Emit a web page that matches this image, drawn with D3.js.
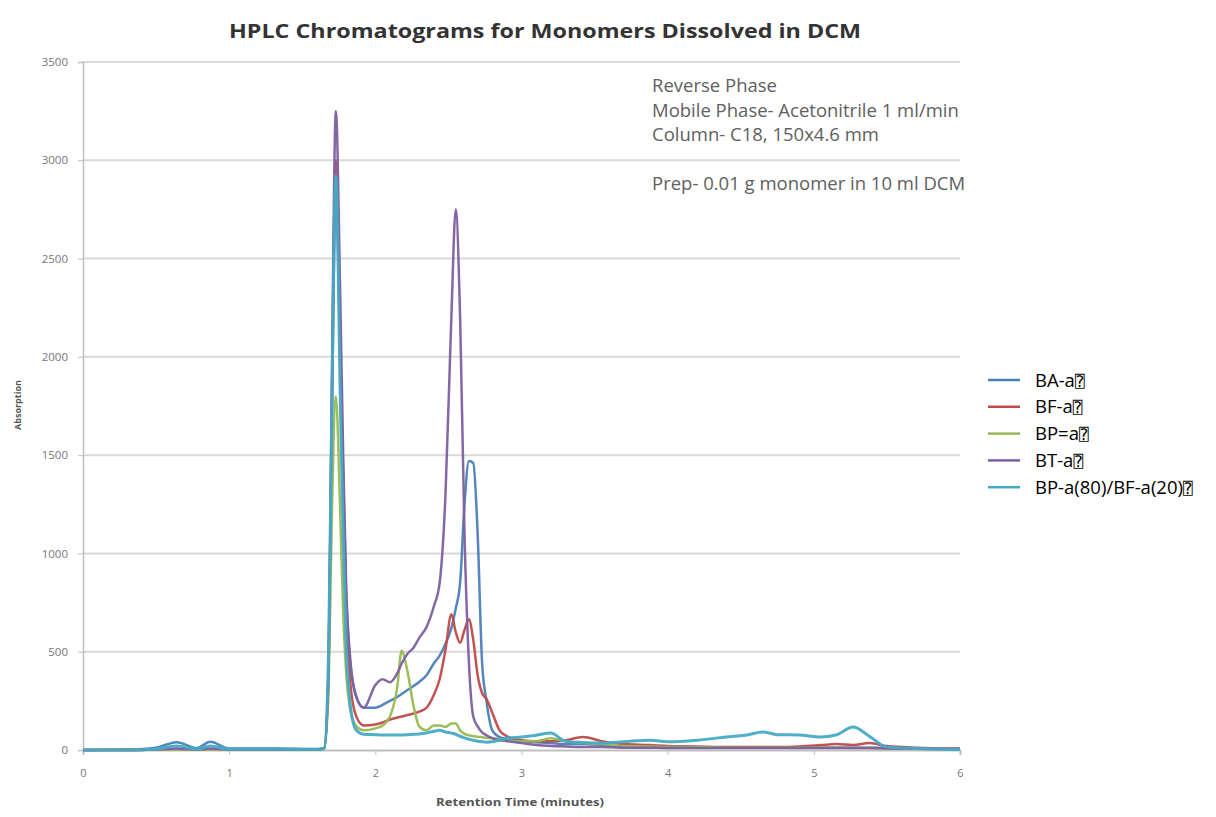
<!DOCTYPE html>
<html>
<head>
<meta charset="utf-8">
<script src="https://cdn.jsdelivr.net/npm/d3@7"></script>
<style>
  html, body { margin: 0; padding: 0; background: #ffffff; }
  svg { display: block; }
</style>
</head>
<body>
<svg id="chart" width="1216" height="817"></svg>
<script>
// ---------------- DATA ----------------
const chartTitle = "HPLC Chromatograms for Monomers Dissolved in DCM";
const xTitle = "Retention Time (minutes)";
const yTitle = "Absorption";
const xTicks = [0, 1, 2, 3, 4, 5, 6];
const yTicks = [0, 500, 1000, 1500, 2000, 2500, 3000, 3500];
const notes = [
  "Reverse Phase",
  "Mobile Phase- Acetonitrile 1 ml/min",
  "Column- C18, 150x4.6 mm",
  "",
  "Prep- 0.01 g monomer in 10 ml DCM"
];
const seriesNames = ["BA-a", "BF-a", "BP=a", "BT-a", "BP-a(80)/BF-a(20)"];
const seriesColors = ["#4a7ebb", "#be4b48", "#98b954", "#7d60a0", "#46aac5"];

// retention times (minutes) shared by all series
const times = [0, 0.3, 0.5, 0.64, 0.78, 0.87, 1.0, 1.3, 1.6, 1.65, 1.68, 1.70, 1.73, 1.76, 1.78, 1.80, 1.83, 1.87, 1.92,
  2.0, 2.05, 2.1, 2.15, 2.18, 2.22, 2.26, 2.3, 2.35, 2.4, 2.44, 2.48, 2.52, 2.55, 2.58, 2.61, 2.64, 2.67, 2.70, 2.73, 2.76,
  2.80, 2.85, 2.9, 3.0, 3.1, 3.2, 3.3, 3.42, 3.55, 3.7, 3.88, 4.0, 4.2, 4.4, 4.55, 4.65, 4.75, 4.9, 5.05, 5.15, 5.27,
  5.38, 5.5, 5.7, 6.0];

const baValues = [0, 2, 12, 40, 10, 42, 8, 8, 5, 10, 400, 1500, 2850, 2000, 1400, 800, 430, 270, 215,
  215, 230, 250, 270, 285, 305, 325, 346, 380, 440, 480, 540, 620, 720, 850, 1250, 1470, 1460, 1100, 450, 250,
  100, 65, 55, 45, 40, 35, 30, 30, 25, 15, 12, 12, 12, 12, 12, 12, 12, 12, 12, 12, 12,
  12, 10, 8, 5];

const bfValues = [0, 0, 2, 5, 3, 5, 3, 3, 3, 8, 400, 1600, 3000, 2000, 1300, 700, 330, 170, 125,
  130, 140, 155, 165, 170, 178, 185, 195, 215, 280, 360, 510, 690, 600, 545, 610, 665, 560, 380, 290, 260,
  190, 100, 70, 50, 45, 45, 50, 66, 45, 30, 25, 20, 18, 15, 15, 15, 15, 18, 25, 30, 25,
  35, 20, 12, 8];

const bpValues = [0, 0, 2, 4, 2, 4, 2, 2, 2, 5, 300, 1100, 1800, 1200, 700, 400, 200, 120, 100,
  110, 125, 170, 320, 505, 400, 230, 120, 100, 125, 125, 117, 135, 135, 100, 82, 75, 70, 68, 65, 62,
  60, 55, 50, 45, 45, 60, 45, 35, 30, 20, 18, 15, 15, 12, 12, 12, 12, 12, 12, 12, 10,
  10, 8, 6, 5];

const btValues = [0, 0, 3, 8, 3, 8, 3, 3, 3, 8, 400, 1700, 3250, 2300, 1500, 850, 450, 270, 215,
  330, 360, 345, 390, 440, 490, 519, 570, 625, 730, 850, 1300, 2200, 2750, 2200, 1100, 450, 170, 120, 90, 75,
  60, 50, 45, 35, 25, 20, 18, 15, 15, 12, 12, 10, 10, 10, 10, 10, 10, 10, 10, 10, 10,
  10, 8, 6, 5];

const mixValues = [0, 0, 5, 20, 5, 20, 5, 5, 3, 10, 500, 1600, 2920, 1800, 1100, 550, 220, 100, 80,
  78, 76, 76, 76, 76, 78, 80, 82, 86, 95, 100, 92, 86, 80, 70, 62, 55, 50, 45, 42, 40,
  42, 50, 60, 66, 75, 86, 45, 38, 35, 42, 50, 42, 50, 66, 78, 92, 78, 76, 66, 76, 117,
  70, 15, 8, 3];

const seriesValues = [baValues, bfValues, bpValues, btValues, mixValues];

// ---------------- CHART ----------------
const svg = d3.select("#chart");
const x = d3.scaleLinear().domain([0, 6]).range([83, 960]);
const y = d3.scaleLinear().domain([0, 3500]).range([750, 62]);

// gridlines
svg.append("g")
  .selectAll("line")
  .data(yTicks.filter(d => d > 0))
  .join("line")
  .attr("x1", x(0)).attr("x2", x(6))
  .attr("y1", d => y(d)).attr("y2", d => y(d))
  .attr("stroke", "#d9d9d9").attr("stroke-width", 2);

// y axis
const yAxis = svg.append("g")
  .attr("transform", `translate(${x(0)},0)`)
  .call(d3.axisLeft(y).tickValues(yTicks).tickSize(5).tickPadding(10).tickFormat(d3.format("d")));
yAxis.select(".domain").attr("stroke", "#bfbfbf").attr("stroke-width", 1.5);
yAxis.selectAll(".tick line").attr("stroke", "#bfbfbf");
yAxis.selectAll(".tick text").attr("fill", "#777").style("font-family", "Open Sans, sans-serif").style("font-size", "11.5px");

// x axis
const xAxis = svg.append("g")
  .attr("transform", `translate(0,${y(0)})`)
  .call(d3.axisBottom(x).tickValues(xTicks).tickSize(5).tickPadding(14).tickFormat(d3.format("d")));
xAxis.select(".domain").attr("stroke", "#bfbfbf").attr("stroke-width", 2);
xAxis.selectAll(".tick line").attr("stroke", "#bfbfbf");
xAxis.selectAll(".tick text").attr("fill", "#777").style("font-family", "Open Sans, sans-serif").style("font-size", "11px");

// lines
const line = d3.line()
  .x((d, i) => x(times[i]))
  .y(d => y(d))
  .curve(d3.curveMonotoneX);

svg.append("g")
  .selectAll("path")
  .data(seriesValues)
  .join("path")
  .attr("d", d => line(d))
  .attr("fill", "none")
  .attr("stroke", (d, i) => seriesColors[i])
  .attr("stroke-width", (d, i) => i === 4 ? 3 : 2.5)
  .attr("stroke-linejoin", "round")
  .attr("opacity", 0.95);

// title
svg.append("text")
  .attr("x", 545).attr("y", 38)
  .attr("text-anchor", "middle")
  .attr("textLength", 632).attr("lengthAdjust", "spacingAndGlyphs")
  .style("font-family", "Open Sans, sans-serif").style("font-weight", "bold").style("font-size", "20px")
  .attr("fill", "#333")
  .text(chartTitle);

// axis titles
svg.append("text")
  .attr("x", 520).attr("y", 806)
  .attr("text-anchor", "middle")
  .attr("textLength", 168).attr("lengthAdjust", "spacingAndGlyphs")
  .style("font-family", "Open Sans, sans-serif").style("font-weight", "bold").style("font-size", "11px")
  .attr("fill", "#555")
  .text(xTitle);

svg.append("text")
  .attr("transform", "translate(21,405) rotate(-90)")
  .attr("text-anchor", "middle")
  .style("font-family", "Open Sans, sans-serif").style("font-weight", "bold").style("font-size", "9px")
  .attr("fill", "#555")
  .text(yTitle);

// notes
svg.append("g")
  .selectAll("text")
  .data(notes)
  .join("text")
  .attr("x", 652)
  .attr("y", (d, i) => 92 + i * 24.5)
  .style("font-family", "Open Sans, sans-serif").style("font-size", "18.5px")
  .attr("fill", "#606060")
  .text(d => d);

// legend
const legend = svg.append("g");
const items = legend.selectAll("g")
  .data(seriesNames)
  .join("g")
  .attr("transform", (d, i) => `translate(0,${380 + i * 26.8})`);
items.append("line")
  .attr("x1", 988).attr("x2", 1020).attr("y1", 0).attr("y2", 0)
  .attr("stroke", (d, i) => seriesColors[i]).attr("stroke-width", 2.5);
const lt = items.append("text")
  .attr("x", 1035).attr("y", 6.5)
  .style("font-family", "Open Sans, sans-serif").style("font-size", "18.5px")
  .attr("fill", "#000");
lt.append("tspan").text(d => d);
lt.append("tspan").style("font-family", "DejaVu Sans, DejaVu Sans Mono, sans-serif").style("font-size", "16px").text("\u2370");
</script>
</body>
</html>
